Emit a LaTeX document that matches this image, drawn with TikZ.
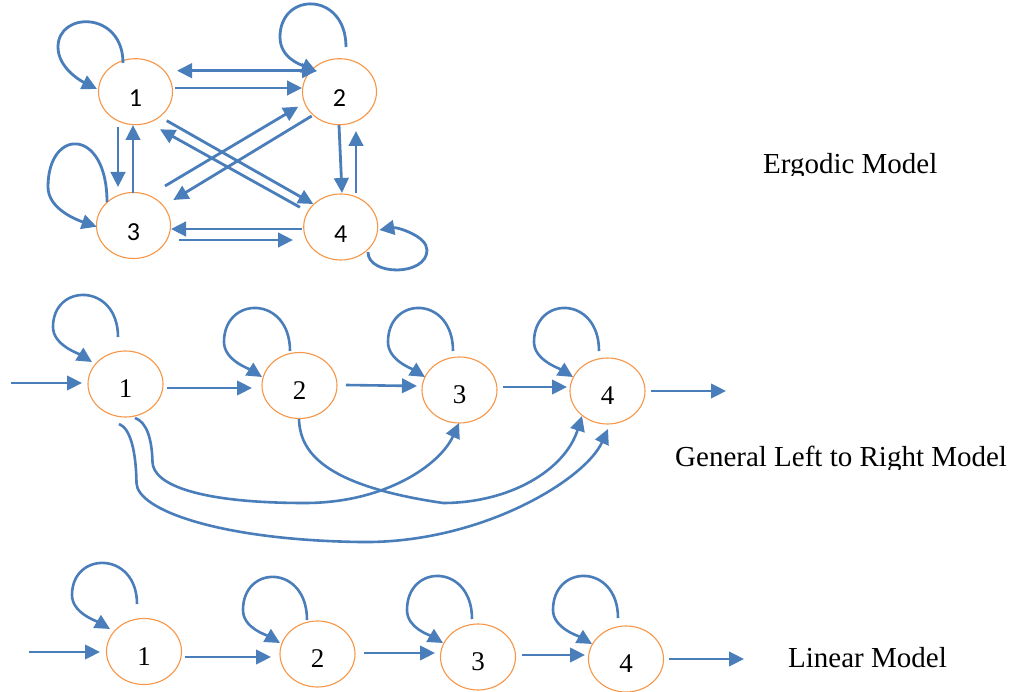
\documentclass[tikz,border=0pt]{standalone}
\usepackage{fontspec}
\setmainfont{Liberation Serif}
\newfontfamily\calib{Carlito}
\usetikzlibrary{arrows.meta,calc,shapes.geometric}
\definecolor{blu}{HTML}{4A7EBB}
\definecolor{orn}{HTML}{F79646}
\tikzset{
  st/.style={ellipse, draw=orn, line width=1.1pt, minimum width=75pt, minimum height=66pt, inner sep=0pt,
    font=\fontsize{27}{27}\selectfont, text height=27.5pt, text depth=0pt},
  est/.style={st, minimum width=74pt, font=\calib\fontsize{26}{26}\selectfont, text height=30.5pt},
  arr/.style={draw=blu, line width=2.6pt, -{Triangle[length=15pt,width=14.5pt]}},
  earr/.style={arr, line width=2.8pt},
  earrb/.style={earr, {Triangle[length=15pt,width=14.5pt]}-{Triangle[length=15pt,width=14.5pt]}},
  ttl/.style={font=\fontsize{29}{34}\selectfont, inner sep=0pt, anchor=base west}
}
\begin{document}
\begin{tikzpicture}[x=1pt,y=-1pt]
\path[fill=white, use as bounding box] (0,0) rectangle (1013,692);

% ---------------- Ergodic model ----------------
\node[est] (e1) at (135.5,91.7) {1};
\node[est] (e2) at (339.5,91.7) {2};
\node[est] (e3) at (133.5,225.5) {3};
\node[est] (e4) at (340.7,227) {4};

\draw[earrb] ($(e1)+(41.5,-21)$) -- ($(e2)+(-22.5,-21)$);
\draw[earr] ($(e1)+(39.5,-3.7)$) -- ($(e2)+(-37.5,-3.7)$);
\draw[earr] ($(e1)+(-17.5,35.3)$) -- ($(e3)+(-15.5,-38.5)$);
\draw[earr] ($(e3)+(-0.5,-32.5)$) -- ($(e1)+(-2.5,33.3)$);
\draw[earr] ($(e2)+(-0.5,33.3)$) -- ($(e4)+(1.3,-34)$);
\draw[earr] ($(e4)+(15.3,-34)$) -- ($(e2)+(16.5,39.3)$);
\draw[earr] ($(e4)+(-38.7,2)$) -- ($(e3)+(37.5,3.5)$);
\draw[earr] ($(e3)+(45.5,14.5)$) -- ($(e4)+(-47.7,13)$);
\draw[earr] ($(e1)+(31.2,29)$) -- ($(e4)+(-27.4,-23)$);
\draw[earr] ($(e4)+(-40.7,-19.7)$) -- ($(e1)+(24.5,37.6)$);
\draw[earr] ($(e3)+(31.5,-39.5)$) -- ($(e2)+(-41.2,15)$);
\draw[earr] ($(e2)+(-27.8,24.3)$) -- ($(e3)+(39.8,-25.5)$);

\draw[earr] ($(e1)+(-12.5,-28.7)$) .. controls (123,11) and (58,11) .. (58,47)
  .. controls (58,68) and (81,81) .. ($(e1)+(-38.5,-2.7)$);
\draw[earr] ($(e2)+(6.5,-44.7)$) .. controls (346,-8.7) and (280,-8.7) .. (280,37)
  .. controls (280,58) and (300.6,64.6) .. ($(e2)+(-22.8,-20)$);
\draw[earr] ($(e3)+(-26.5,-23.5)$) .. controls (107,127.2) and (48,127.2) .. (48,187)
  .. controls (48,210) and (80,221) .. ($(e3)+(-36.8,1.2)$);
\draw[earr] ($(e4)+(27.3,25)$) .. controls (368,276.3) and (427,276.3) .. (427,250)
  .. controls (427,236) and (397,227) .. ($(e4)+(38.6,3)$);

\begin{scope}
\clip (700,140) rectangle (1013,176);
\node[ttl] (t1) at (763,173.5) {Ergodic Model};
\end{scope}

% ---------------- General left to right model ----------------
\node[st] (g1) at (125.5,384) {1};
\node[st] (g2) at (299.5,385.5) {2};
\node[st] (g3) at (459.5,390) {3};
\node[st] (g4) at (607.5,391) {4};
\coordinate (gin) at (11,383);
\coordinate (gout) at (726,391);

\draw[arr] (gin) -- ($(g1)+(-43.5,-1)$);
\draw[arr] ($(g1)+(41.5,4)$) -- ($(g2)+(-47.5,2.5)$);
\draw[arr] ($(g2)+(46.5,-0.5)$) -- ($(g3)+(-42.5,-4)$);
\draw[arr] ($(g3)+(43.5,-3)$) -- ($(g4)+(-40.5,-4)$);
\draw[arr] ($(g4)+(43.5,0)$) -- (gout);

\draw[arr] ($(g1)+(-7.5,-47)$) .. controls (118,282.7) and (53,282.7) .. (53,327)
  .. controls (53,345) and (78.4,353.5) .. ($(g1)+(-33.5,-22)$);
\draw[arr] ($(g2)+(-9.5,-34.5)$) .. controls (290,295.2) and (224,295.2) .. (224,342)
  .. controls (224,360) and (248.4,368.5) .. ($(g2)+(-37.5,-8.5)$);
\draw[arr] ($(g3)+(-6.5,-39)$) .. controls (453,295.2) and (388,295.2) .. (388,342)
  .. controls (388,360) and (411.4,368.5) .. ($(g3)+(-34.5,-13)$);
\draw[arr] ($(g4)+(-8.5,-40)$) .. controls (599,295.2) and (534,295.2) .. (534,342)
  .. controls (534,360) and (559.4,368.5) .. ($(g4)+(-34.5,-14)$);

% long arcs
\draw[arr] ($(g1)+(9.5,34)$) .. controls (147,422) and (152,440) .. (152.5,462)
  .. controls (153,485) and (200,503) .. (305,503)
  .. controls (385,503) and (440,465) .. ($(g3)+(-0.5,33)$);
\draw[arr] ($(g1)+(-6.5,40)$) .. controls (130,428) and (136,450) .. (136.5,483)
  .. controls (137,510) and (220,540) .. (360,542)
  .. controls (480,544) and (585,480) .. ($(g4)+(0.5,38)$);
\draw[arr] ($(g2)+(-0.5,33.5)$) .. controls (300,450) and (320,485) .. (443,503)
  .. controls (510,503) and (565,470) .. ($(g4)+(-25.5,25)$);

\begin{scope}
\clip (660,430) rectangle (1013,469.5);
\node[ttl] (t2) at (675,466.7) {General Left to Right Model};
\end{scope}

% ---------------- Linear model ----------------
\node[st] (l1) at (144,651.5) {1};
\node[st] (l2) at (317.5,654) {2};
\node[st] (l3) at (478,657) {3};
\node[st] (l4) at (626,659) {4};
\coordinate (lin) at (29,652);
\coordinate (lout) at (744,659);

\draw[arr] (lin) -- ($(l1)+(-44,0.5)$);
\draw[arr] ($(l1)+(41,5.5)$) -- ($(l2)+(-46.5,3)$);
\draw[arr] ($(l2)+(46.5,-1)$) -- ($(l3)+(-43,-4)$);
\draw[arr] ($(l3)+(44,-2)$) -- ($(l4)+(-41,-4)$);
\draw[arr] ($(l4)+(43,0)$) -- (lout);

\draw[arr] ($(l1)+(-7,-47.5)$) .. controls (137,550.8) and (72,550.8) .. (72,595)
  .. controls (72,613) and (96.4,621) .. ($(l1)+(-34,-22.5)$);
\draw[arr] ($(l2)+(-10.5,-34)$) .. controls (307,564.3) and (243,564.3) .. (243,610)
  .. controls (243,628) and (266.4,635) .. ($(l2)+(-37.5,-11)$);
\draw[arr] ($(l3)+(-6,-38)$) .. controls (472,563.2) and (407,563.2) .. (407,610)
  .. controls (407,628) and (429.4,635) .. ($(l3)+(-35,-14)$);
\draw[arr] ($(l4)+(-8,-41)$) .. controls (618,563.3) and (553,563.3) .. (553,610)
  .. controls (553,628) and (578.4,636) .. ($(l4)+(-34,-15)$);

\node[ttl] (t3) at (788,667.3) {Linear Model};
\end{tikzpicture}
\end{document}
